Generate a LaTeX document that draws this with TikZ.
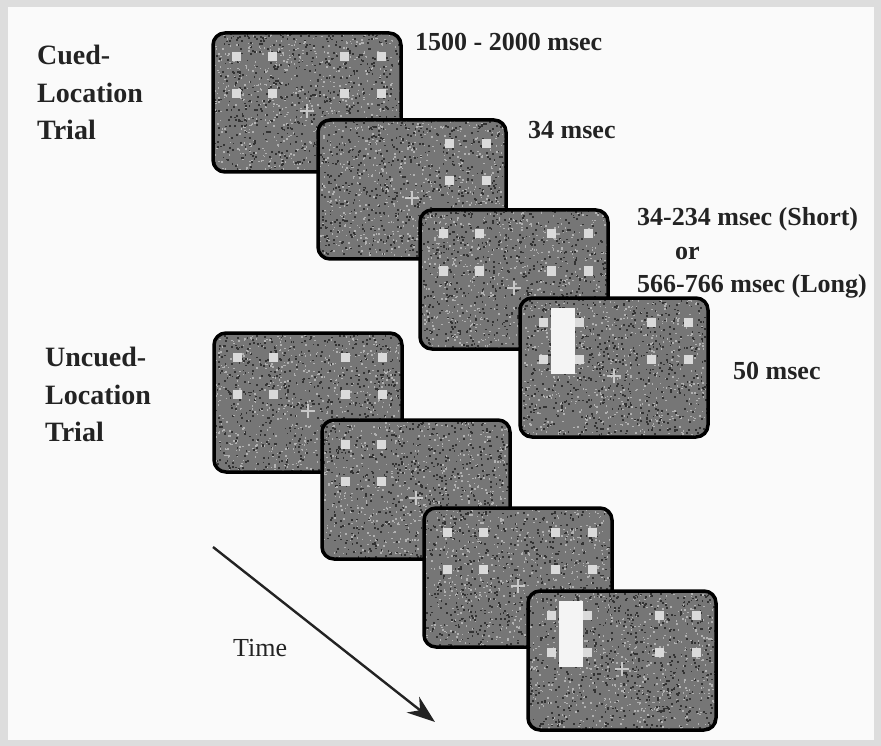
\documentclass[tikz,border=0pt]{standalone}
\usepackage{fontspec}
\setmainfont{Liberation Serif}
\usetikzlibrary{arrows.meta}
\definecolor{framegray}{RGB}{221,221,221}
\definecolor{paper}{RGB}{250,250,250}
\definecolor{screenbg}{RGB}{118,118,118}
\definecolor{dotgray}{RGB}{218,218,218}
\definecolor{crossgray}{RGB}{200,200,200}
\definecolor{targetwhite}{RGB}{244,244,244}
\definecolor{ink}{RGB}{35,35,35}
\tikzset{
  trialtext/.style={font=\bfseries\fontsize{28}{37.5}\selectfont, align=left, inner sep=0pt, text=ink},
  durtext/.style={font=\bfseries\fontsize{26}{33}\selectfont, inner sep=0pt, text=ink},
  frameline/.style={line width=3.5pt, rounded corners=12pt},
  timearrow/.style={line width=2.4pt, draw=ink, -{Stealth[length=28pt,width=20pt,inset=9pt]}},
}
% one display: top-left x, top-left y, dot columns, extra (target)
\newcommand{\stimscreen}[4]{%
  \begin{scope}[shift={(#1,#2)}]
    \fill[screenbg, rounded corners=12pt] (0,0) rectangle (188,139);
    \begin{scope}
      \clip[rounded corners=12pt] (0,0) rectangle (188,139);
      \foreach \k in {1,...,650} {
        \fill[black!80] (188*rnd,139*rnd) rectangle +(1.8,1.8);
        \fill[black!30] (188*rnd,139*rnd) rectangle +(1.5,1.5);
      }
    \end{scope}
    \foreach \dx in {#3} \foreach \dy in {24,61}
      \fill[dotgray] (\dx-4.5,\dy-4.5) rectangle +(9,9);
    \draw[crossgray, line width=2.4pt] (87,78) -- (101,78) (94,71) -- (94,85);
    #4
    \draw[frameline] (0,0) rectangle (188,139);
  \end{scope}}

\begin{document}
\begin{tikzpicture}[x=1pt,y=-1pt]
  \pgfmathsetseed{7}
  \useasboundingbox (0,0) rectangle (881,746);
  \fill[framegray] (0,0) rectangle (881,746);
  \fill[paper] (8,7) rectangle (874,740);
  % cued-location trial
  \stimscreen{213}{33}{23,59,131,168}{}
  \stimscreen{318}{120}{131,168}{}
  \stimscreen{420}{210}{23,59,131,168}{}
  \stimscreen{520}{298}{23,59,131,168}{\fill[targetwhite] (31,10) rectangle (55,76);}
  % uncued-location trial
  \stimscreen{214}{333}{23,59,131,168}{}
  \stimscreen{322}{420}{23,59}{}
  \stimscreen{424}{508}{23,59,131,168}{}
  \stimscreen{528}{591}{23,59,131,168}{\fill[targetwhite] (31,10) rectangle (55,76);}
  % labels
  \node[trialtext, anchor=north west] (cued) at (37,45) {Cued-\\Location\\Trial};
  \node[trialtext, anchor=north west] (uncued) at (45,347) {Uncued-\\Location\\Trial};
  \node[durtext, anchor=base west] (fix) at (415,51) {1500 - 2000 msec};
  \node[durtext, anchor=base west] (cue) at (528,139) {34 msec};
  \node[durtext, anchor=base west] (short) at (637,226) {34-234 msec (Short)};
  \node[durtext, anchor=base west] (or) at (675,260) {or};
  \node[durtext, anchor=base west] (long) at (637,292) {566-766 msec (Long)};
  \node[durtext, anchor=base west] (target) at (733,379) {50 msec};
  % time arrow
  \node[font=\fontsize{26}{30}\selectfont, text=ink, inner sep=0pt, anchor=base west] (time) at (233,656) {Time};
  \coordinate (tstart) at (213,547);
  \coordinate (tend) at (435,722);
  \draw[timearrow] (tstart) -- (tend);
\end{tikzpicture}
\end{document}
